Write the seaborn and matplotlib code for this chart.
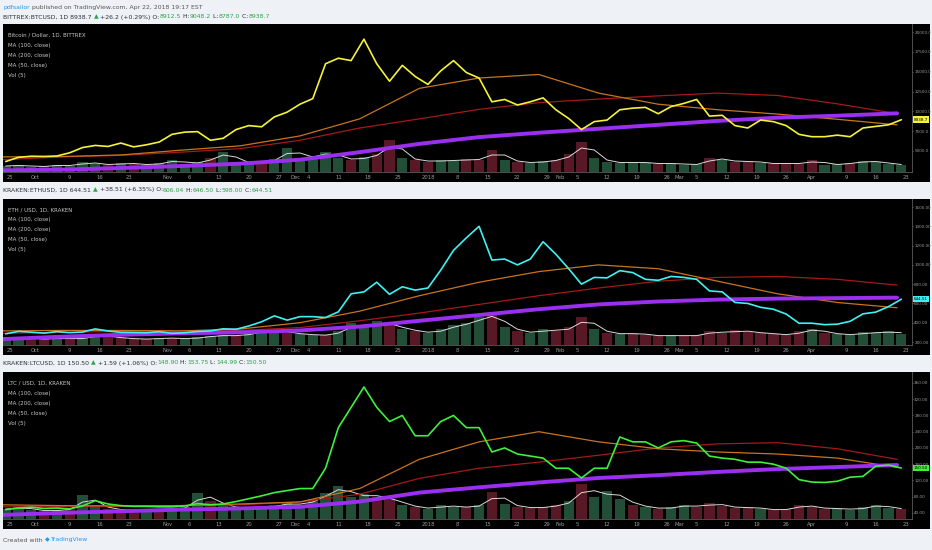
import numpy as np
import pandas as pd
import matplotlib
matplotlib.use("Agg")
import matplotlib.pyplot as plt
import matplotlib.transforms as mtransforms
import seaborn as sns

sns.set_theme(style="dark")
plt.rcParams["font.family"] = ["Liberation Sans Narrow", "DejaVu Sans"]

W, H = 932, 550

# daily closes sampled every 3 days, Sep 24 2017 .. Apr 22 2018
price_dates = pd.date_range("2017-09-24", periods=71, freq="3D")
# moving averages read every 14 days
ma_dates = pd.date_range("2017-09-23", periods=16, freq="14D")

btc_close = [3670, 4200, 4340, 4310, 4370, 4770, 5430, 5700, 5570, 6000,
             5520, 5780, 6130, 7100, 7380, 7440, 6350, 6600, 7700, 8200,
             8050, 9300, 9900, 10900, 11600, 16000, 16700, 16400, 19100, 16000,
             13800, 15800, 14400, 13400, 15100, 16400, 14900, 14200, 11200, 11500,
             10800, 11200, 11700, 10200, 9100, 7700, 8700, 8900, 10200, 10400,
             10500, 9700, 10600, 11000, 11500, 9400, 9500, 8200, 7900, 8900,
             8700, 8200, 7100, 6800, 6800, 7000, 6800, 7900, 8100, 8300, 8940]
btc_vol = [6, 7, 5, 6, 7, 6, 10, 8, 7, 9, 8, 7, 9, 12, 8, 10, 14, 20, 10, 9,
           10, 13, 24, 14, 16, 20, 14, 12, 15, 18, 32, 14, 12, 10, 12, 11, 13, 12, 22, 12,
           10, 9, 11, 12, 18, 30, 14, 10, 9, 10, 9, 8, 9, 7, 8, 14, 12, 10, 11, 9,
           8, 9, 8, 12, 7, 8, 9, 11, 10, 8, 7]
btc_ma50 = [4250, 4300, 4500, 5100, 5650, 6900, 9050, 12900, 14200, 14650,
            12300, 10900, 10200, 9650, 9000, 8300]
btc_ma100 = [3900, 4250, 4450, 4850, 5300, 6350, 7900, 9050, 10250, 11100,
             11550, 11950, 12300, 12000, 10950, 9700]
btc_ma200 = [2550, 2650, 2850, 3100, 3400, 3900, 4850, 5900, 6750, 7300,
             7800, 8300, 8800, 9200, 9450, 9750]

eth_close = [285, 310, 302, 292, 308, 297, 303, 336, 314, 300,
             298, 296, 307, 290, 296, 309, 315, 337, 332, 366,
             410, 471, 427, 463, 463, 454, 513, 700, 720, 820,
             695, 773, 738, 760, 945, 1150, 1280, 1400, 1050, 1060,
             1000, 1060, 1240, 1110, 960, 800, 870, 865, 940, 920,
             850, 840, 880, 870, 850, 730, 720, 610, 600, 560,
             540, 490, 395, 395, 380, 385, 415, 492, 510, 567, 644]
eth_vol = [7, 8, 6, 6, 7, 6, 7, 10, 8, 7, 6, 6, 7, 7, 6, 8, 9, 10, 9, 12,
           14, 15, 12, 11, 10, 10, 14, 22, 18, 24, 20, 16, 14, 12, 16, 20, 22, 28, 30, 18,
           14, 12, 16, 14, 18, 28, 16, 12, 11, 12, 10, 9, 10, 9, 10, 14, 12, 15, 13, 12,
           11, 10, 14, 16, 12, 11, 10, 13, 12, 14, 11]
eth_ma50 = [315, 320, 320, 315, 335, 400, 520, 680, 820, 930,
            1000, 960, 830, 700, 610, 555]
eth_ma100 = [290, 300, 310, 315, 320, 350, 420, 500, 590, 680,
             760, 830, 870, 880, 850, 790]
eth_ma200 = [230, 255, 275, 290, 300, 320, 360, 420, 480, 540,
             590, 620, 640, 650, 655, 660]

ltc_close = [48, 52, 54, 51, 52, 50, 57, 70, 62, 58,
             56, 56, 55, 55, 57, 63, 60, 62, 68, 75,
             82, 90, 95, 100, 100, 150, 250, 300, 350, 300,
             265, 280, 230, 230, 265, 280, 250, 250, 190, 200,
             185, 180, 175, 150, 150, 126, 150, 150, 227, 215,
             215, 200, 215, 218, 212, 180, 175, 172, 165, 165,
             160, 150, 122, 116, 115, 118, 128, 130, 155, 158, 150.5]
ltc_vol = [10, 12, 9, 8, 9, 10, 24, 14, 10, 9, 8, 9, 8, 10, 12, 26, 18, 14, 10, 12,
           11, 14, 16, 14, 20, 26, 33, 22, 25, 22, 20, 14, 12, 10, 14, 12, 12, 14, 27, 15,
           12, 11, 12, 14, 18, 35, 22, 28, 20, 14, 12, 10, 12, 14, 12, 16, 13, 11, 12, 10,
           9, 10, 14, 12, 10, 11, 9, 12, 14, 11, 10]
ltc_ma50 = [60, 58, 57, 58, 62, 67, 100, 172, 215, 240,
            215, 198, 190, 185, 175, 152]
ltc_ma100 = [55, 56, 57, 58, 60, 67, 86, 125, 150, 165,
             182, 200, 210, 213, 198, 172]
ltc_ma200 = [35, 40, 44, 48, 51, 55, 68, 90, 103, 115,
             126, 133, 141, 148, 153, 158]

tick_dates = ["2017-09-25", "2017-10-01", "2017-10-09", "2017-10-16", "2017-10-23",
              "2017-11-01", "2017-11-06", "2017-11-13", "2017-11-20", "2017-11-27",
              "2017-12-01", "2017-12-04", "2017-12-11", "2017-12-18", "2017-12-25",
              "2018-01-01", "2018-01-08", "2018-01-15", "2018-01-22", "2018-01-29",
              "2018-02-01", "2018-02-05", "2018-02-12", "2018-02-19", "2018-02-26",
              "2018-03-01", "2018-03-05", "2018-03-12", "2018-03-19", "2018-03-26",
              "2018-04-01", "2018-04-09", "2018-04-16", "2018-04-23"]
tick_labels = ["25", "Oct", "9", "16", "23", "Nov", "6", "13", "20", "27",
               "Dec", "4", "11", "18", "25", "2018", "8", "15", "22", "29",
               "Feb", "5", "12", "19", "26", "Mar", "5", "12", "19", "26",
               "Apr", "9", "16", "23"]

BG = "#eef1f5"
GRAY = "#9a9a9a"
UP = "#2ca24a"
C_MA50 = "#c8741e"
C_MA100 = "#a41a1a"
C_MA200 = "#9b2ff0"
VOL_UP = "#24523a"
VOL_DN = "#5e1a29"


def px_rect(left, top, right, bottom):
    return [left / W, 1 - bottom / H, (right - left) / W, (bottom - top) / H]


def rich_line(fig, x_px, y_px, parts, size=4.4):
    renderer = fig.canvas.get_renderer()
    x = x_px / W
    for s, c in parts:
        t = fig.text(x, 1 - y_px / H, s, color=c, fontsize=size, va="center", ha="left")
        x += t.get_window_extent(renderer=renderer).width / fig.bbox.width


def draw_panel(fig, top, plot_bottom, band_bottom, close, vol, ma50, ma100, ma200,
               color, ylim, yticks, fmt, legend, box_text):
    bg = fig.add_axes(px_rect(3, top, 930, band_bottom))
    bg.set_facecolor("black")
    bg.set_xticks([])
    bg.set_yticks([])
    for s in bg.spines.values():
        s.set_visible(False)

    rect = px_rect(3, top, 912, plot_bottom)
    axv = fig.add_axes(rect)
    axv.set_facecolor("none")
    ax = fig.add_axes(rect, sharex=axv)
    ax.set_facecolor("none")

    # volume bars, coloured by direction, with their moving average
    colors = [VOL_UP if i == 0 or close[i] >= close[i - 1] else VOL_DN
              for i in range(len(close))]
    axv.bar(price_dates, vol, width=2.4, color=colors, alpha=0.95, linewidth=0)
    vol_ma = pd.Series(vol).rolling(2, min_periods=1).mean()
    sns.lineplot(x=price_dates, y=vol_ma.values, ax=axv, color="#d9d9d9", linewidth=0.7)
    axv.set_ylim(0, 148)
    axv.set_yticks([])
    axv.set_xlabel("")
    axv.set_ylabel("")
    for s in axv.spines.values():
        s.set_visible(False)
    axv.tick_params(axis="x", length=0, labelbottom=False)

    sns.lineplot(x=ma_dates, y=ma100, ax=ax, color=C_MA100, linewidth=0.9)
    sns.lineplot(x=ma_dates, y=ma50, ax=ax, color=C_MA50, linewidth=0.9)
    sns.lineplot(x=ma_dates, y=ma200, ax=ax, color=C_MA200, linewidth=2.8)
    sns.lineplot(x=price_dates, y=close, ax=ax, color=color, linewidth=1.2)

    ax.set_xlim(pd.Timestamp("2017-09-23 09:00"), pd.Timestamp("2018-04-24 12:00"))
    ax.set_ylim(*ylim)
    ax.set_xticks(pd.to_datetime(tick_dates))
    ax.set_xticklabels(tick_labels)
    ax.yaxis.tick_right()
    ax.set_yticks(yticks)
    ax.set_yticklabels([fmt.format(v) for v in yticks])
    ax.set_xlabel("")
    ax.set_ylabel("")
    ax.tick_params(axis="x", length=0, pad=2.2, labelsize=3.8, colors=GRAY)
    ax.tick_params(axis="y", length=1.0, width=0.5, pad=0.6, labelsize=3.0,
                   colors=GRAY, direction="out")
    for side in ["top", "left"]:
        ax.spines[side].set_visible(False)
    for side in ["right", "bottom"]:
        ax.spines[side].set_color("#5a5a5a")
        ax.spines[side].set_linewidth(0.6)

    trans = mtransforms.blended_transform_factory(ax.transAxes, ax.transData)
    ax.text(1.002, close[-1], box_text, transform=trans, va="center", ha="left",
            fontsize=3.0, color="black",
            bbox=dict(boxstyle="square,pad=0.3", fc=color, ec="none"))

    for i, line in enumerate(legend):
        fig.text(8 / W, 1 - (top + 11 + 10 * i) / H, line, color="#c8c8c8",
                 fontsize=4.0, va="center", ha="left")


fig = plt.figure(figsize=(W / 100, H / 100), dpi=100, facecolor=BG)

legend_tail = ["MA (100, close)", "MA (200, close)", "MA (50, close)", "Vol (5)"]

draw_panel(fig, 24, 172, 182, btc_close, btc_vol, btc_ma50, btc_ma100, btc_ma200,
           "#f4f23a", (2350, 21015), [5000, 7500, 10000, 12500, 15000, 17500, 20000],
           "{:.1f}", ["Bitcoin / Dollar, 1D, BITTREX"] + legend_tail, "8938.7")
draw_panel(fig, 199, 345, 355, eth_close, eth_vol, eth_ma50, eth_ma100, eth_ma200,
           "#3ff2f2", (169, 1683), [200, 400, 600, 800, 1000, 1200, 1400, 1600],
           "{:.2f}", ["ETH / USD, 1D, KRAKEN"] + legend_tail, "644.51")
draw_panel(fig, 372, 519, 529, ltc_close, ltc_vol, ltc_ma50, ltc_ma100, ltc_ma200,
           "#3cf03c", (25, 387), [40, 80, 120, 160, 200, 240, 280, 320, 360],
           "{:.2f}", ["LTC / USD, 1D, KRAKEN"] + legend_tail, "150.50")

DARK = "#2a2e39"
rich_line(fig, 3, 7, [("pdfsailor", "#2196f3"),
                      (" published on TradingView.com, Apr 22, 2018 19:17 EST", "#555555")])
rich_line(fig, 3, 17, [("BITTREX:BTCUSD, 1D 8938.7 ", DARK), ("\u25b2", UP),
                       (" +26.2 (+0.29%) O:", DARK), ("8912.5", UP), (" H:", DARK),
                       ("9048.2", UP), (" L:", DARK), ("8787.0", UP), (" C:", DARK),
                       ("8938.7", UP)])
rich_line(fig, 3, 190, [("KRAKEN:ETHUSD, 1D 644.51 ", DARK), ("\u25b2", UP),
                        (" +38.51 (+6.35%) O:", DARK), ("606.04", UP), (" H:", DARK),
                        ("646.50", UP), (" L:", DARK), ("598.00", UP), (" C:", DARK),
                        ("644.51", UP)])
rich_line(fig, 3, 363, [("KRAKEN:LTCUSD, 1D 150.50 ", DARK), ("\u25b2", UP),
                        (" +1.59 (+1.06%) O:", DARK), ("148.90", UP), (" H:", DARK),
                        ("153.75", UP), (" L:", DARK), ("144.99", UP), (" C:", DARK),
                        ("150.50", UP)])
rich_line(fig, 3, 540, [("Created with ", "#555555"), ("\u25c6 ", "#2196f3"),
                        ("TradingView", "#2196f3")])

fig.savefig("out.png", dpi=100, facecolor=BG)
